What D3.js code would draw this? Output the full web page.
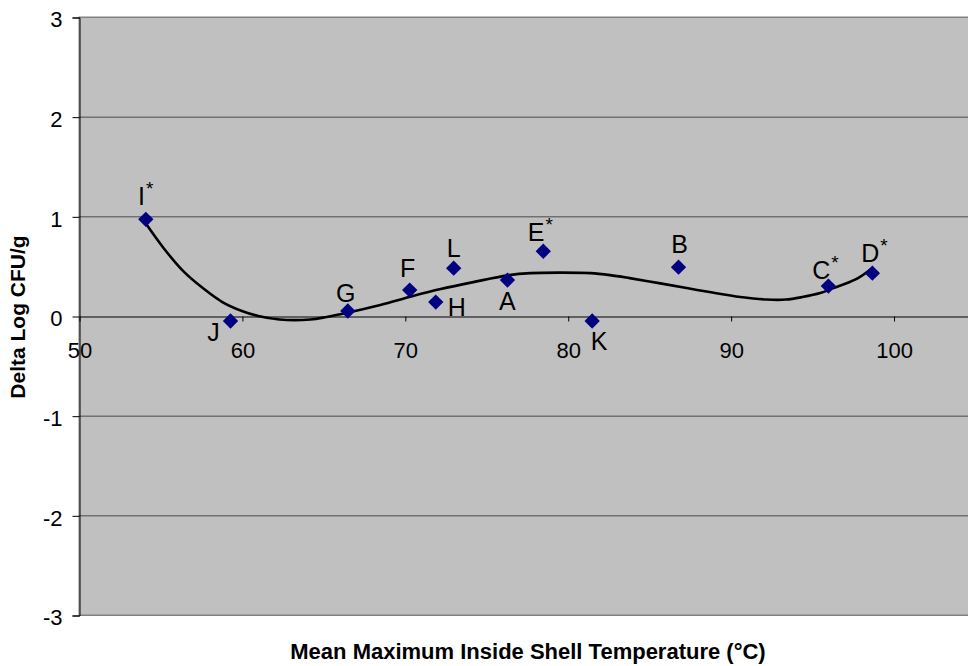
<!DOCTYPE html>
<html>
<head>
<meta charset="utf-8">
<script src="https://cdn.jsdelivr.net/npm/d3@7"></script>
<style>
  body { margin: 0; background: #fff; }
  svg { display: block; font-family: Arial, "Liberation Sans", sans-serif; }
</style>
</head>
<body>
<div id="chart"></div>
<script>
// samples
const labels = ["I", "J", "G", "F", "H", "L", "A", "E", "K", "B", "C", "D"];
const starred = [true, false, false, false, false, false, false, true, false, false, true, true];
const temps = [54.1, 59.3, 66.5, 70.3, 71.9, 73.0, 76.3, 78.5, 81.5, 86.8, 96.0, 98.7];
const deltas = [0.97, -0.05, 0.05, 0.26, 0.14, 0.48, 0.36, 0.65, -0.05, 0.49, 0.30, 0.43];

// trend line
const trendX = [54.05, 55.2, 56.4, 57.6, 58.8, 60.0, 61.0, 62.3, 64.2, 65.2, 66.4, 68.5,
  70.5, 72.2, 74.2, 76.4, 77.7, 79.5, 81.4, 82.6, 83.8, 85.6, 87.3, 88.7, 90.6, 92.2,
  93.4, 94.4, 95.5, 96.3, 97.7, 98.6];
const trendY = [0.94, 0.68, 0.45, 0.28, 0.14, 0.05, 0.0, -0.035, -0.035, -0.01, 0.03, 0.11,
  0.2, 0.27, 0.34, 0.41, 0.43, 0.435, 0.43, 0.41, 0.38, 0.33, 0.28, 0.24, 0.19, 0.165,
  0.165, 0.19, 0.23, 0.28, 0.37, 0.47];

const xTicks = [50, 60, 70, 80, 90, 100];
const yTicks = [-3, -2, -1, 0, 1, 2, 3];

// where each label sits relative to its marker (px)
const labelOffsets = {
  I: [0, -14], J: [-17, 20], G: [-2, -9], F: [-2, -13], H: [21, 14], L: [0, -11],
  A: [0, 30], E: [-3, -10], K: [7, 29], B: [1, -14], C: [-3, -7], D: [2, -11]
};

const width = 968, height = 666;
const plot = { left: 79, top: 17, right: 975, bottom: 615 };

const svg = d3.select("#chart").append("svg")
  .attr("width", width)
  .attr("height", height);

const x = d3.scaleLinear().domain([50, 105]).range([plot.left, plot.right]);
const y = d3.scaleLinear().domain([-3, 3]).range([plot.bottom, plot.top]);

svg.append("rect")
  .attr("x", plot.left).attr("y", plot.top)
  .attr("width", plot.right - plot.left).attr("height", plot.bottom - plot.top)
  .attr("fill", "#c0c0c0")
  .attr("stroke", "#808080");

// horizontal gridlines
svg.selectAll(".grid")
  .data(yTicks.filter(d => d !== 0))
  .enter()
  .append("line")
  .attr("class", "grid")
  .attr("x1", plot.left).attr("x2", plot.right)
  .attr("y1", d => y(d) + 0.5).attr("y2", d => y(d) + 0.5)
  .attr("stroke", d => (d === 3 || d === -3) ? "#808080" : "#4a4a4a")
  .attr("stroke-width", 1);

const fmt = d => String(d);

// y axis
const yAxis = svg.append("g")
  .attr("transform", `translate(${plot.left + 0.5},0.5)`)
  .call(d3.axisLeft(y).tickValues(yTicks).tickFormat(fmt).tickSize(7).tickPadding(10));
yAxis.select(".domain").attr("stroke", "#000");
yAxis.selectAll("text")
  .attr("font-size", 22).attr("fill", "#000").attr("dy", "0.42em")
  .attr("font-family", "Arial, 'Liberation Sans', sans-serif");

// x axis on the zero line
const xAxis = svg.append("g")
  .attr("transform", `translate(0.5,${y(0) + 0.5})`)
  .call(d3.axisBottom(x).tickValues(xTicks).tickFormat(fmt).tickSize(5).tickPadding(21).tickSizeOuter(0));
xAxis.select(".domain").attr("stroke", "#000");
xAxis.selectAll("text")
  .attr("font-size", 22).attr("fill", "#000")
  .attr("font-family", "Arial, 'Liberation Sans', sans-serif");

// trend line
const trend = trendX.map((t, i) => [t, trendY[i]]);
svg.append("path")
  .datum(trend)
  .attr("fill", "none")
  .attr("stroke", "#000")
  .attr("stroke-width", 2.6)
  .attr("stroke-linejoin", "round")
  .attr("d", d3.line().x(d => x(d[0])).y(d => y(d[1])).curve(d3.curveCatmullRom.alpha(0.5)));

// markers
const points = labels.map((l, i) => ({ label: l, star: starred[i], t: temps[i], v: deltas[i] }));
const diamond = d3.symbol().type(d3.symbolDiamond2).size(150);

svg.selectAll(".pt")
  .data(points)
  .enter()
  .append("path")
  .attr("class", "pt")
  .attr("transform", d => `translate(${x(d.t)},${y(d.v)})`)
  .attr("d", diamond)
  .attr("fill", "#000080");

// point labels
const lab = svg.selectAll(".lab")
  .data(points)
  .enter()
  .append("text")
  .attr("class", "lab")
  .attr("x", d => x(d.t) + labelOffsets[d.label][0])
  .attr("y", d => y(d.v) + labelOffsets[d.label][1])
  .attr("text-anchor", "middle")
  .attr("font-size", 25)
  .attr("fill", "#000");
lab.append("tspan").text(d => d.label);
lab.filter(d => d.star).append("tspan")
  .attr("font-size", 19)
  .attr("dx", 1)
  .attr("dy", -10)
  .text("*");

// axis titles
svg.append("text")
  .attr("x", 528).attr("y", 659)
  .attr("text-anchor", "middle")
  .attr("font-size", 22)
  .attr("font-weight", "bold")
  .text("Mean Maximum Inside Shell Temperature (°C)");

svg.append("text")
  .attr("transform", `translate(25,317) rotate(-90)`)
  .attr("text-anchor", "middle")
  .attr("font-size", 21)
  .attr("font-weight", "bold")
  .text("Delta Log CFU/g");
</script>
</body>
</html>
